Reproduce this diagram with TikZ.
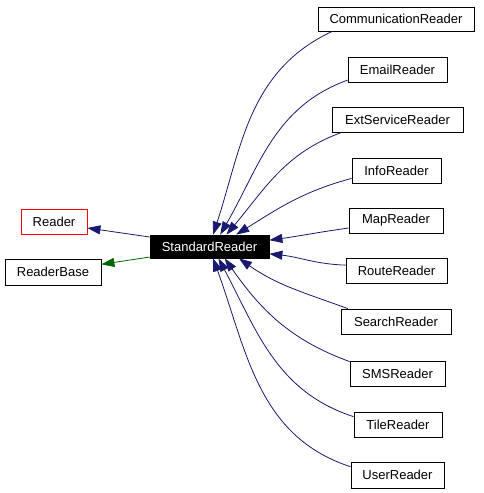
\documentclass[tikz,border=0pt]{standalone}
\usepackage{fontspec}
\setmainfont{Liberation Sans}
\usetikzlibrary{arrows.meta}
\definecolor{nightblue}{HTML}{191970}
\definecolor{darkgreen}{HTML}{006400}
\tikzset{
  every picture/.style={font=\fontsize{13}{15}\selectfont, x=1pt, y=1pt},
  cls/.style={draw=black, fill=white, line width=0.8pt, inner sep=0pt, minimum height=25pt},
  focus/.style={cls, fill=black, text=white, minimum height=23pt},
  inh/.style={-{Triangle[length=13pt,width=9pt]}, nightblue, line width=0.8pt},
  inhpub/.style={inh, darkgreen},
}

\begin{document}
\begin{tikzpicture}
  \useasboundingbox (0,0) rectangle (483,493);
  % classes
  \node[focus, minimum width=119pt] (sr) at (209.5,246.5) {StandardReader};
  \node[cls, draw=red, minimum width=66pt] (reader) at (54,271.5) {Reader};
  \node[cls, minimum width=96pt, minimum height=26pt] (base) at (53,221) {ReaderBase};
  \node[cls, minimum width=156pt, minimum height=24pt] (comm) at (396,474) {CommunicationReader};
  \node[cls, minimum width=99pt] (email) at (397.5,423.5) {EmailReader};
  \node[cls, minimum width=131pt] (ext) at (397.5,373.5) {ExtServiceReader};
  \node[cls, minimum width=89pt] (info) at (396.5,322.5) {InfoReader};
  \node[cls, minimum width=94pt] (map) at (396,272.5) {MapReader};
  \node[cls, minimum width=101pt] (route) at (396.5,222.5) {RouteReader};
  \node[cls, minimum width=110pt] (search) at (396,171.5) {SearchReader};
  \node[cls, minimum width=95pt] (sms) at (397.5,119.5) {SMSReader};
  \node[cls, minimum width=88pt] (tile) at (398,68.5) {TileReader};
  \node[cls, minimum width=93pt, minimum height=26pt] (user) at (397.5,18) {UserReader};
  % base classes
  \draw[inh] (sr.171) -- (reader.-11);
  \draw[inhpub] (sr.190) -- (base.9.5);
  % derived classes
  \draw[inh] (comm.191) to[out=205,in=72] (sr.73);
  \draw[inh] (email.192) to[out=200,in=60] (sr.48);
  \draw[inh] (ext.193) to[out=200,in=50] (sr.35);
  \draw[inh] (info.190) to[out=195,in=32] (sr.24);
  \draw[inh] (map.189) to[out=188,in=8] (sr.6);
  \draw[inh] (route.174) to[out=178,in=-6] (sr.-7);
  \draw[inh] (search.165) to[out=160,in=-35] (sr.-22);
  \draw[inh] (sms.166) to[out=160,in=-55] (sr.-38);
  \draw[inh] (tile.170) to[out=162,in=-62] (sr.-53);
  \draw[inh] (user.170) to[out=162,in=-70] (sr.-73);
\end{tikzpicture}
\end{document}
